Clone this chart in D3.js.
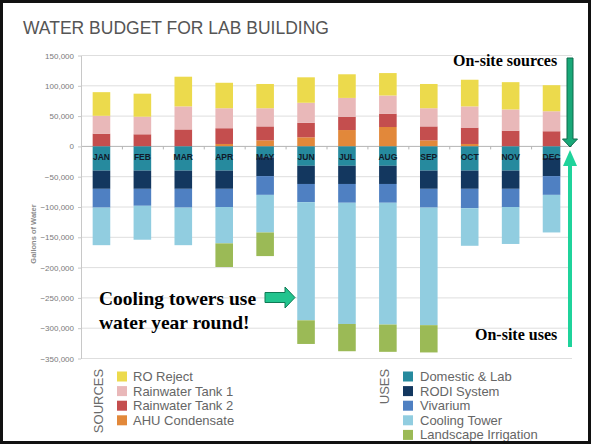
<!DOCTYPE html>
<html>
<head>
<meta charset="utf-8">
<script src="https://cdn.jsdelivr.net/npm/d3@7"></script>
<style>
  body { margin: 0; background: #fff; }
  svg { display: block; font-family: "Liberation Sans", Arial, sans-serif; }
</style>
</head>
<body>
<div class="chart"></div>
<script>
var months = ["JAN", "FEB", "MAR", "APR", "MAY", "JUN", "JUL", "AUG", "SEP", "OCT", "NOV", "DEC"];

// sources (gallons, thousands) - stacked up
var ahuCondensate = [0, 0, 0, 4, 10, 15, 27, 32, 10, 4, 0, 0];
var rainTank2 = [21, 20, 28, 26, 23, 24, 22, 22, 23, 27, 26, 25];
var rainTank1 = [29.5, 29, 38, 33, 30, 33, 31, 30, 30, 35, 35, 33];
var roReject = [39, 38, 49, 42, 40, 42, 39, 37, 40, 44, 45, 43];

// uses (gallons, thousands) - stacked down
var domesticLab = [40, 40, 40, 40, 18, 32, 32, 32, 40, 40, 40, 19];
var rodiSystem = [30, 30, 30, 30, 31, 30, 30, 30, 30, 30, 30, 30];
var vivarium = [31, 28, 31, 30, 31, 30, 31, 31, 31, 32, 30, 31];
var coolingTower = [62, 56, 62, 60, 62, 195, 200, 201, 194, 62, 61, 62];
var landscape = [0, 0, 0, 39, 39, 39, 45, 45, 45, 0, 0, 0];

var yTicks = [150000, 100000, 50000, 0, -50000, -100000, -150000, -200000, -250000, -300000, -350000];

var sourceNames = ["RO Reject", "Rainwater Tank 1", "Rainwater Tank 2", "AHU Condensate"];
var useNames = ["Domestic & Lab", "RODI System", "Vivarium", "Cooling Tower", "Landscape Irrigation"];

var colors = {
  "RO Reject": "#ecda4c",
  "Rainwater Tank 1": "#e9b8b9",
  "Rainwater Tank 2": "#c44e4e",
  "AHU Condensate": "#e2883a",
  "Domestic & Lab": "#268a9e",
  "RODI System": "#13375f",
  "Vivarium": "#4f80c2",
  "Cooling Tower": "#91cde0",
  "Landscape Irrigation": "#9bba56"
};

// stacking order (diverging): positives up from zero, negatives down from zero
var keys = ["AHU Condensate", "Rainwater Tank 2", "Rainwater Tank 1", "RO Reject",
  "Domestic & Lab", "RODI System", "Vivarium", "Cooling Tower", "Landscape Irrigation"];

var table = months.map(function (m, i) {
  return {
    month: m,
    "AHU Condensate": ahuCondensate[i] * 1000,
    "Rainwater Tank 2": rainTank2[i] * 1000,
    "Rainwater Tank 1": rainTank1[i] * 1000,
    "RO Reject": roReject[i] * 1000,
    "Domestic & Lab": -domesticLab[i] * 1000,
    "RODI System": -rodiSystem[i] * 1000,
    "Vivarium": -vivarium[i] * 1000,
    "Cooling Tower": -coolingTower[i] * 1000,
    "Landscape Irrigation": -landscape[i] * 1000
  };
});

var W = 592, H = 444;
var plotLeft = 81, plotRight = 572, plotTop = 55.5, plotBottom = 358.5;

var svg = d3.select(".chart").append("svg")
  .attr("width", W).attr("height", H);

svg.append("rect").attr("width", W).attr("height", H).attr("fill", "#fff");

var xScale = d3.scaleBand().domain(months).range([plotLeft, plotRight])
  .paddingInner(0.57).paddingOuter(0.285);
var yScale = d3.scaleLinear().domain([-350000, 150000]).range([plotBottom, plotTop]);

// title
svg.append("text")
  .attr("x", 23).attr("y", 34)
  .attr("fill", "#555")
  .style("font-size", "17.5px")
  .text("WATER BUDGET FOR LAB BUILDING");

// gridlines
svg.append("g").selectAll("line")
  .data(yTicks)
  .enter().append("line")
  .attr("x1", plotLeft).attr("x2", plotRight)
  .attr("y1", function (d) { return yScale(d); })
  .attr("y2", function (d) { return yScale(d); })
  .attr("stroke", function (d) { return d === 0 ? "#b5b5b5" : "#dedede"; })
  .attr("stroke-width", 1);

// y axis
var yAxis = svg.append("g")
  .attr("transform", "translate(" + plotLeft + ",0)")
  .call(d3.axisLeft(yScale).tickValues(yTicks).tickSize(3).tickSizeOuter(0).tickPadding(4)
    .tickFormat(d3.format(",")));
yAxis.select(".domain").attr("stroke", "#c8c8c8");
yAxis.selectAll(".tick line").attr("stroke", "#c8c8c8");
yAxis.selectAll("text").attr("fill", "#7a7a7a").style("font-size", "8px")
  .style("font-family", "'Liberation Sans', Arial, sans-serif");

svg.append("text")
  .attr("transform", "translate(36,234) rotate(-90)")
  .attr("text-anchor", "middle")
  .attr("fill", "#8a8a8a")
  .style("font-size", "7.5px").style("font-weight", "bold")
  .text("Gallons of Water");

// category ticks along zero line
var sep = d3.scaleLinear().domain([0, 12]).range([plotLeft, plotRight]);
var xAxis = svg.append("g")
  .attr("transform", "translate(0," + yScale(0) + ")")
  .call(d3.axisBottom(sep).tickValues(d3.range(1, 12)).tickSize(3).tickSizeOuter(0).tickFormat(""));
xAxis.select(".domain").remove();
xAxis.selectAll(".tick line").attr("stroke", "#b5b5b5");

// bars
var series = d3.stack().keys(keys).offset(d3.stackOffsetDiverging)(table);

svg.append("g").selectAll("g")
  .data(series)
  .enter().append("g")
  .attr("fill", function (d) { return colors[d.key]; })
  .selectAll("rect")
  .data(function (d) { return d; })
  .enter().append("rect")
  .attr("x", function (d) { return xScale(d.data.month); })
  .attr("width", xScale.bandwidth())
  .attr("y", function (d) { return yScale(Math.max(d[0], d[1])); })
  .attr("height", function (d) { return Math.abs(yScale(d[0]) - yScale(d[1])); });

// month labels
svg.append("g").selectAll("text")
  .data(months)
  .enter().append("text")
  .attr("x", function (d) { return xScale(d) + xScale.bandwidth() / 2; })
  .attr("y", yScale(0) + 14)
  .attr("text-anchor", "middle")
  .attr("fill", "#111a2a")
  .style("font-size", "8.5px").style("font-weight", "bold")
  .text(function (d) { return d; });

// legend
function legend(names, x, labelX, y0, title, titleY) {
  svg.append("text")
    .attr("transform", "translate(" + (x - 14) + "," + titleY + ") rotate(-90)")
    .attr("text-anchor", "middle")
    .attr("fill", "#6a6a6a")
    .style("font-size", "13px")
    .text(title);
  var item = svg.append("g").selectAll("g")
    .data(names)
    .enter().append("g")
    .attr("transform", function (d, i) { return "translate(0," + (y0 + i * 14.6) + ")"; });
  item.append("rect")
    .attr("x", x).attr("y", -5).attr("width", 10).attr("height", 10)
    .attr("fill", function (d) { return colors[d]; });
  item.append("text")
    .attr("x", labelX).attr("y", 4.5)
    .attr("fill", "#666")
    .style("font-size", "13px")
    .text(function (d) { return d; });
}
legend(sourceNames, 117, 133, 376.5, "SOURCES", 401);
legend(useNames, 403, 420, 376.5, "USES", 386.5);

// annotations
var ann = svg.append("g").style("font-family", "'Liberation Serif', 'Times New Roman', serif")
  .style("font-weight", "bold").attr("fill", "#000");
ann.append("text").attr("x", 453).attr("y", 66).style("font-size", "16px").text("On-site sources");
ann.append("text").attr("x", 475).attr("y", 340).style("font-size", "16px").text("On-site uses");
ann.append("text").attr("x", 99).attr("y", 305).style("font-size", "19.5px").text("Cooling towers use");
ann.append("text").attr("x", 99).attr("y", 329).style("font-size", "19.5px").text("water year round!");

// arrows
svg.append("path")
  .attr("d", "M567,58 L573,58 L573,139 L577.5,139 L570,147 L562.5,139 L567,139 Z")
  .attr("fill", "#19a878").attr("stroke", "#0c6a4b").attr("stroke-width", 1);
svg.append("path")
  .attr("d", "M570,150 L577,166 L572,166 L572,347 L568,347 L568,166 L563,166 Z")
  .attr("fill", "#1fd39b");
svg.append("path")
  .attr("d", "M265,292.5 L285,292.5 L285,287 L295,297.5 L285,308 L285,302.5 L265,302.5 Z")
  .attr("fill", "#22c48e").attr("stroke", "#0e7a55").attr("stroke-width", 1);

// frame
svg.append("rect")
  .attr("x", 1.5).attr("y", 1.5).attr("width", W - 4).attr("height", H - 3)
  .attr("fill", "none").attr("stroke", "#111").attr("stroke-width", 3);
</script>
</body>
</html>
